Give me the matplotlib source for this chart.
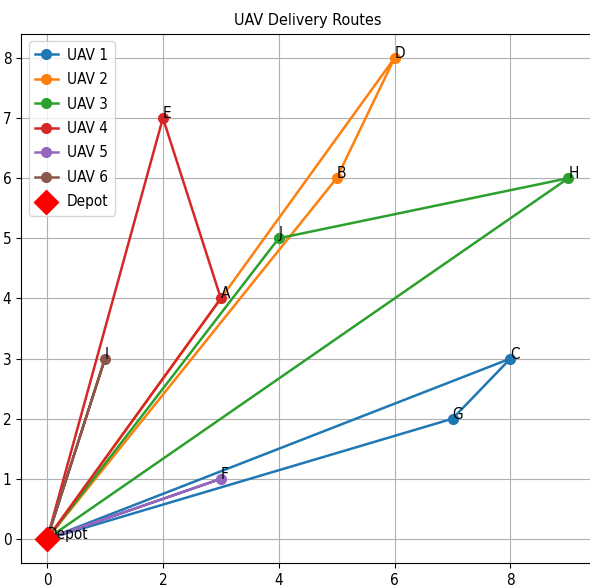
import matplotlib
matplotlib.use("Agg")
import matplotlib.pyplot as plt
from matplotlib import font_manager

avail = {f.name for f in font_manager.fontManager.ttflist}
if "DejaVu Sans Condensed" in avail:
    plt.rcParams["font.family"] = ["DejaVu Sans Condensed", "DejaVu Sans"]
else:
    plt.rcParams["font.family"] = ["DejaVu Sans"]
    plt.rcParams["font.stretch"] = "condensed"

# customer locations
names = ["A", "B", "C", "D", "E", "F", "G", "H", "I", "J"]
xs = [3, 5, 8, 6, 2, 3, 7, 9, 1, 4]
ys = [4, 6, 3, 8, 7, 1, 2, 6, 3, 5]
depot = (0, 0)

routes = {
    "UAV 1": ["G", "C"],
    "UAV 2": ["B", "D"],
    "UAV 3": ["J", "H"],
    "UAV 4": ["E", "A"],
    "UAV 5": ["F"],
    "UAV 6": ["I"],
}
colors = ["#1f77b4", "#ff7f0e", "#2ca02c", "#d62728", "#9467bd", "#8c564b"]

pos = {n: (x, y) for n, x, y in zip(names, xs, ys)}

fig = plt.figure(figsize=(5.9, 5.88), dpi=100)
ax = fig.add_axes([0.0356, 0.0425, 0.972, 0.900])

for (label, stops), c in zip(routes.items(), colors):
    px = [depot[0]] + [pos[s][0] for s in stops] + [depot[0]]
    py = [depot[1]] + [pos[s][1] for s in stops] + [depot[1]]
    ax.plot(px, py, marker="o", color=c, linewidth=1.8, markersize=7, label=label)

ax.scatter([depot[0]], [depot[1]], marker="D", color="red", s=150, zorder=5, label="Depot")

for n in names:
    ax.text(pos[n][0], pos[n][1], n, fontsize=11)
ax.text(depot[0], depot[1], "Depot", fontsize=11)

ax.set_xlim(-0.45, 9.45)
ax.set_ylim(-0.4, 8.4)
ax.set_title("UAV Delivery Routes", fontsize=11.5)
ax.grid(True)
ax.legend(loc="upper left", fontsize=11, handlelength=1.5, labelspacing=0.62,
          handletextpad=0.6)
ax.tick_params(labelsize=11)

fig.savefig("out.png", dpi=100)
